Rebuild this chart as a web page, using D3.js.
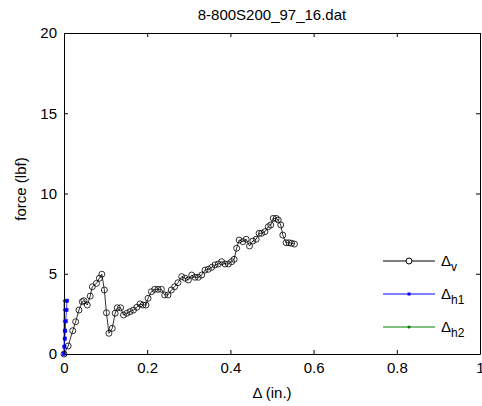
<!DOCTYPE html>
<html><head><meta charset="utf-8">
<script src="https://cdn.jsdelivr.net/npm/d3@7"></script>
<style>body{margin:0;background:#fff}svg{display:block}text{font-family:Arial,"Liberation Sans",sans-serif}</style>
</head><body>
<script>
const title = "8-800S200_97_16.dat";
const xTicks = [0, 0.2, 0.4, 0.6, 0.8, 1];
const yTicks = [0, 5, 10, 15, 20];
const dvX = [0.000,0.010,0.021,0.028,0.036,0.044,0.048,0.056,0.063,0.068,0.078,0.085,0.091,0.097,0.102,0.108,0.116,0.123,0.128,0.136,0.143,0.151,0.159,0.167,0.175,0.183,0.190,0.197,0.202,0.210,0.218,0.226,0.234,0.242,0.250,0.258,0.266,0.274,0.283,0.291,0.299,0.307,0.315,0.323,0.331,0.339,0.347,0.355,0.363,0.371,0.379,0.387,0.395,0.403,0.409,0.415,0.421,0.430,0.438,0.446,0.454,0.462,0.469,0.475,0.483,0.491,0.497,0.503,0.510,0.515,0.521,0.526,0.534,0.541,0.547,0.554];
const dvY = [0,0.50,1.45,2.01,2.74,3.26,3.32,3.05,3.61,4.19,4.40,4.72,4.97,3.99,2.57,1.29,1.60,2.54,2.88,2.88,2.43,2.54,2.64,2.74,2.91,3.12,3.05,3.05,3.47,3.88,4.03,4.03,4.03,3.68,3.68,3.99,4.19,4.44,4.82,4.72,4.61,4.92,4.78,4.78,4.92,5.23,5.28,5.40,5.55,5.61,5.75,5.61,5.61,5.75,5.90,6.59,7.10,7.00,7.15,6.73,7.04,7.15,7.52,7.52,7.62,7.93,8.04,8.45,8.45,8.35,8.04,7.41,6.93,6.93,6.90,6.85];
const dh1X = [0,0.001,0.002,0.003,0.004,0.006,0.007];
const dh1Y = [0,0.46,0.96,1.45,2.04,2.74,3.32];
const dh2X = [0,0,0,0,0,0,0];
const dh2Y = [0,0.46,0.96,1.45,2.04,2.74,3.32];

const W = 482, H = 406;
const m = {l:64, r:2, t:33, b:52};
const svg = d3.select("body").append("svg").attr("width", W).attr("height", H);
const x = d3.scaleLinear().domain([0,1]).range([m.l, W - m.r]);
const y = d3.scaleLinear().domain([0,20]).range([H - m.b, m.t]);
const fs = 15;

const line = d3.line().x(d => x(d[0])).y(d => y(d[1]));
const zip = (a, b) => a.map((v, i) => [v, b[i]]);

// green (under the axis)
const gd = zip(dh2X, dh2Y);
const g0 = svg.append("g");
g0.append("path").attr("d", line(gd)).attr("fill","none").attr("stroke","#008000").attr("stroke-width",0.8);
g0.selectAll("circle").data(gd).enter().append("circle").attr("cx", d=>x(d[0])).attr("cy", d=>y(d[1])).attr("r",1.2).attr("fill","#008000");

// axes
const tl = 4;
const axB = d3.axisBottom(x).tickValues(xTicks).tickFormat(d3.format("~g")).tickSizeInner(-tl).tickSizeOuter(0).tickPadding(8);
const axL = d3.axisLeft(y).tickValues(yTicks).tickFormat(d3.format("~g")).tickSizeInner(-tl).tickSizeOuter(0).tickPadding(7);
const axT = d3.axisTop(x).tickValues(xTicks).tickFormat("").tickSizeInner(-tl).tickSizeOuter(0);
const axR = d3.axisRight(y).tickValues(yTicks).tickFormat("").tickSizeInner(-tl).tickSizeOuter(0);
function style(sel){ sel.selectAll("path").attr("stroke","#000"); sel.selectAll("line").attr("stroke","#000"); sel.selectAll("text").attr("font-size",fs).attr("fill","#000").attr("font-family","Arial, 'Liberation Sans', sans-serif"); }
svg.append("g").attr("transform",`translate(0,${y(0)})`).call(axB).call(style);
svg.append("g").attr("transform",`translate(${x(0)},0)`).call(axL).call(style);
svg.append("g").attr("transform",`translate(0,${y(20)})`).call(axT).call(style);
svg.append("g").attr("transform",`translate(${x(1)},0)`).call(axR).call(style);

// blue
const g = svg.append("g");
const bd = zip(dh1X, dh1Y);
g.append("path").attr("d", line(bd)).attr("fill","none").attr("stroke","#0000ff").attr("stroke-width",0.8);
g.selectAll(".b").data(bd).enter().append("rect").attr("x", d=>x(d[0])-1.6).attr("y", d=>y(d[1])-1.6).attr("width",3.2).attr("height",3.2).attr("fill","#0000ff").attr("stroke","#0000ff").attr("stroke-width",0.6);
// black
const kd = zip(dvX, dvY);
g.append("path").attr("d", line(kd)).attr("fill","none").attr("stroke","#000").attr("stroke-width",0.8);
g.selectAll(".k").data(kd).enter().append("circle").attr("cx", d=>x(d[0])).attr("cy", d=>y(d[1])).attr("r",3).attr("fill","none").attr("stroke","#000").attr("stroke-width",0.8);

// labels
svg.append("text").attr("x", (x(0)+x(1))/2).attr("y", 20).attr("text-anchor","middle").attr("font-size",fs).text(title);
svg.append("text").attr("x", (x(0)+x(1))/2).attr("y", 398).attr("text-anchor","middle").attr("font-size",fs).text("Δ (in.)");
svg.append("text").attr("transform",`translate(26,189) rotate(-90)`).attr("text-anchor","middle").attr("font-size",fs).text("force (lbf)");

// legend
const legend = [
  {name:"v", color:"#000", mk:"circle"},
  {name:"h1", color:"#0000ff", mk:"square"},
  {name:"h2", color:"#008000", mk:"dot"}
];
const lg = svg.append("g");
legend.forEach((d,i) => {
  const ly = 261 + i*33;
  lg.append("line").attr("x1",383).attr("x2",435).attr("y1",ly).attr("y2",ly).attr("stroke",d.color).attr("stroke-width",1);
  if (d.mk==="circle") lg.append("circle").attr("cx",409).attr("cy",ly).attr("r",3).attr("fill","#fff").attr("stroke",d.color);
  else if (d.mk==="square") lg.append("rect").attr("x",407.5).attr("y",ly-1.5).attr("width",3).attr("height",3).attr("fill",d.color);
  else lg.append("circle").attr("cx",409).attr("cy",ly).attr("r",1.5).attr("fill",d.color);
  const t = lg.append("text").attr("x",441).attr("y",ly+5).attr("font-size",15);
  t.append("tspan").text("Δ");
  t.append("tspan").attr("dy",5).attr("font-size",12).text(d.name);
});
</script>
</body></html>
